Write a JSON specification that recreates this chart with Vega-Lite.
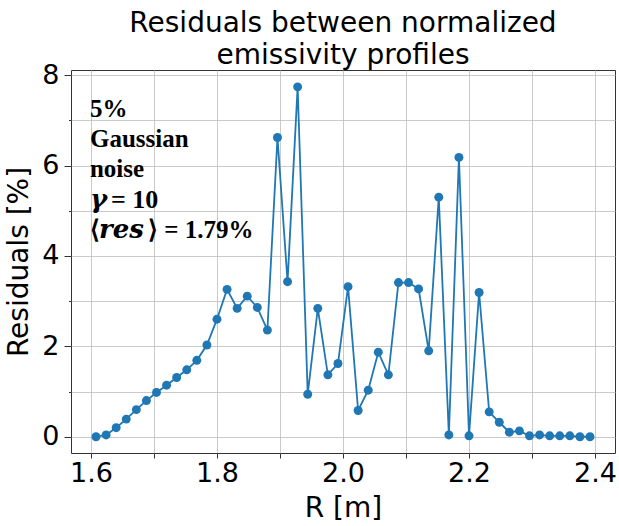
{
  "$schema": "https://vega.github.io/schema/vega-lite/v6.json",
  "width": 544,
  "height": 383,
  "autosize": {"type": "none"},
  "padding": {"left": 71, "top": 70, "right": 4, "bottom": 73},
  "background": "white",
  "title": {
    "text": ["Residuals between normalized", "emissivity profiles"],
    "font": "DejaVu Sans",
    "fontSize": 28,
    "fontWeight": "normal",
    "color": "black",
    "lineHeight": 32,
    "anchor": "middle",
    "offset": -9
  },
  "config": {
    "view": {"stroke": "#333333", "strokeWidth": 1},
    "axis": {
      "domain": false,
      "labelFont": "DejaVu Sans",
      "labelFontSize": 27,
      "labelColor": "black",
      "titleFont": "DejaVu Sans",
      "titleFontSize": 28,
      "titleFontWeight": "normal",
      "titleColor": "black",
      "gridColor": "#bdbdbd",
      "gridWidth": 0.8,
      "tickColor": "#333333",
      "labelOverlap": false,
      "labelFlush": false
    }
  },
  "layer": [
    {
      "data": {
        "values": [
          {"R": 1.608, "res": 0.00}, {"R": 1.624, "res": 0.04}, {"R": 1.640, "res": 0.20},
          {"R": 1.656, "res": 0.39}, {"R": 1.672, "res": 0.60}, {"R": 1.688, "res": 0.80},
          {"R": 1.704, "res": 0.98}, {"R": 1.720, "res": 1.14}, {"R": 1.736, "res": 1.31},
          {"R": 1.752, "res": 1.48}, {"R": 1.768, "res": 1.69}, {"R": 1.784, "res": 2.03},
          {"R": 1.800, "res": 2.60}, {"R": 1.816, "res": 3.26}, {"R": 1.832, "res": 2.84},
          {"R": 1.848, "res": 3.11}, {"R": 1.864, "res": 2.86}, {"R": 1.880, "res": 2.36},
          {"R": 1.896, "res": 6.62}, {"R": 1.912, "res": 3.43}, {"R": 1.928, "res": 7.74},
          {"R": 1.944, "res": 0.94}, {"R": 1.960, "res": 2.84}, {"R": 1.976, "res": 1.37},
          {"R": 1.992, "res": 1.62}, {"R": 2.008, "res": 3.32}, {"R": 2.024, "res": 0.58},
          {"R": 2.040, "res": 1.03}, {"R": 2.056, "res": 1.87}, {"R": 2.072, "res": 1.37},
          {"R": 2.088, "res": 3.41}, {"R": 2.104, "res": 3.41}, {"R": 2.120, "res": 3.27},
          {"R": 2.136, "res": 1.90}, {"R": 2.152, "res": 5.30}, {"R": 2.168, "res": 0.04},
          {"R": 2.184, "res": 6.18}, {"R": 2.200, "res": 0.02}, {"R": 2.216, "res": 3.19},
          {"R": 2.232, "res": 0.55}, {"R": 2.248, "res": 0.32}, {"R": 2.264, "res": 0.10},
          {"R": 2.280, "res": 0.13}, {"R": 2.296, "res": 0.02}, {"R": 2.312, "res": 0.04},
          {"R": 2.328, "res": 0.02}, {"R": 2.344, "res": 0.02}, {"R": 2.360, "res": 0.02},
          {"R": 2.376, "res": 0.00}, {"R": 2.392, "res": 0.00}
        ]
      },
      "mark": {"type": "line", "color": "#1f77b4", "strokeWidth": 1.8, "point": {"filled": true, "size": 80, "color": "#1f77b4", "opacity": 1}},
      "encoding": {
        "x": {
          "field": "R", "type": "quantitative",
          "scale": {"domain": [1.5683, 2.4317], "nice": false, "zero": false},
          "axis": {
            "title": "R [m]",
            "values": [1.6, 1.65, 1.7, 1.75, 1.8, 1.85, 1.9, 1.95, 2.0, 2.05, 2.1, 2.15, 2.2, 2.25, 2.3, 2.35, 2.4],
            "labelExpr": "abs(datum.value*5 - round(datum.value*5)) < 0.001 ? format(datum.value, '.1f') : ''",
            "tickSize": {"condition": {"test": "abs(datum.value*10 - round(datum.value*10)) < 0.001", "value": 5}, "value": 2.5},
            "labelPadding": 2,
            "titlePadding": 8
          }
        },
        "y": {
          "field": "res", "type": "quantitative",
          "scale": {"domain": [-0.36, 8.113], "nice": false, "zero": false},
          "axis": {
            "title": "Residuals [%]",
            "values": [0, 0.5, 1, 1.5, 2, 2.5, 3, 3.5, 4, 4.5, 5, 5.5, 6, 6.5, 7, 7.5, 8],
            "labelExpr": "datum.value % 2 == 0 ? format(datum.value, 'd') : ''",
            "tickSize": {"condition": {"test": "datum.value % 2 == 0", "value": 7}, "value": 2.5},
            "labelPadding": 5,
            "titlePadding": 8
          }
        }
      }
    },
    {
      "data": {
        "values": [
          {"R": 1.5984, "v": 7.08, "t": "5%"},
          {"R": 1.5984, "v": 6.42, "t": "Gaussian"},
          {"R": 1.5984, "v": 5.75, "t": "noise"},
          {"R": 1.5984, "v": 4.39, "t": "⟨"},
          {"R": 1.6905, "v": 4.39, "t": "⟩ = 1.79%"}
        ]
      },
      "mark": {"type": "text", "align": "left", "baseline": "alphabetic", "font": "Liberation Serif", "fontWeight": "bold", "fontSize": 25, "color": "black"},
      "encoding": {
        "x": {"field": "R", "type": "quantitative"},
        "y": {"field": "v", "type": "quantitative"},
        "text": {"field": "t"}
      }
    },
    {
      "data": {
        "values": [
          {"R": 1.6317, "v": 5.07, "t": "= 10"}
        ]
      },
      "mark": {"type": "text", "align": "left", "baseline": "alphabetic", "font": "Liberation Serif", "fontWeight": "bold", "fontSize": 26, "color": "black"},
      "encoding": {
        "x": {"field": "R", "type": "quantitative"},
        "y": {"field": "v", "type": "quantitative"},
        "text": {"field": "t"}
      }
    },
    {
      "data": {
        "values": [
          {"R": 1.5984, "v": 5.07, "t": "γ"},
          {"R": 1.6127, "v": 4.39, "t": "res"}
        ]
      },
      "mark": {"type": "text", "align": "left", "baseline": "alphabetic", "font": "DejaVu Serif", "fontWeight": "bold", "fontStyle": "italic", "fontSize": 26, "color": "black"},
      "encoding": {
        "x": {"field": "R", "type": "quantitative"},
        "y": {"field": "v", "type": "quantitative"},
        "text": {"field": "t"}
      }
    }
  ]
}
